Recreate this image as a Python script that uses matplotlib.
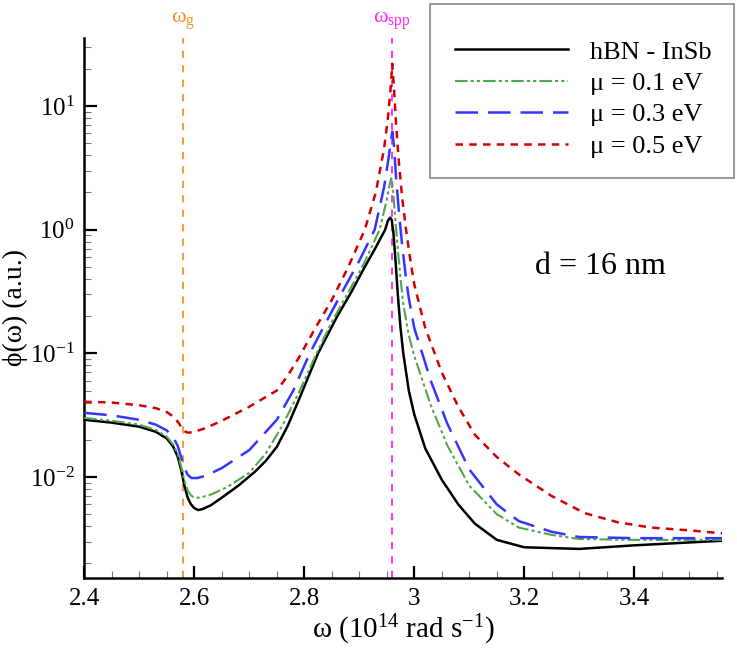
import numpy as np
import matplotlib
matplotlib.use("Agg")
import matplotlib.pyplot as plt
from matplotlib.patches import Rectangle
from matplotlib.ticker import LogLocator, MultipleLocator, FixedLocator, NullFormatter

plt.rcParams['font.family'] = ['Liberation Serif', 'DejaVu Serif']
plt.rcParams['mathtext.fontset'] = 'custom'
plt.rcParams['mathtext.rm'] = 'Liberation Serif'
plt.rcParams['mathtext.it'] = 'Liberation Serif:italic'

# hBN - InSb
x_hbn = [2.40, 2.45, 2.50, 2.53, 2.55, 2.562, 2.57, 2.576, 2.582, 2.588, 2.594, 2.60,
         2.607, 2.615, 2.63, 2.65, 2.68, 2.71, 2.73, 2.75, 2.77, 2.79, 2.825, 2.86,
         2.885, 2.91, 2.93, 2.947, 2.952, 2.956, 2.959, 2.962, 2.966, 2.97, 2.975, 2.98,
         2.99, 3.00, 3.02, 3.05, 3.08, 3.11, 3.15, 3.20, 3.30, 3.40, 3.56]
y_hbn = [0.029, 0.0275, 0.0255, 0.0232, 0.0205, 0.0175, 0.0145, 0.0115, 0.0085, 0.0068,
         0.0060, 0.0056, 0.0054, 0.0055, 0.0059, 0.0068, 0.0085, 0.0110, 0.0135, 0.0175,
         0.026, 0.042, 0.1, 0.2, 0.31, 0.5, 0.72, 1.0, 1.18, 1.25, 1.2, 0.95, 0.55, 0.3,
         0.16, 0.1, 0.05, 0.032, 0.017, 0.0095, 0.0060, 0.0042, 0.0031, 0.0027, 0.00262,
         0.0028, 0.00305]

# mu = 0.1 eV
x_mu1 = [2.40, 2.45, 2.50, 2.53, 2.55, 2.562, 2.57, 2.576, 2.582, 2.588, 2.594, 2.60,
         2.61, 2.63, 2.66, 2.70, 2.73, 2.76, 2.79, 2.82, 2.85, 2.88, 2.91, 2.937, 2.95,
         2.955, 2.958, 2.961, 2.965, 2.97, 2.975, 2.98, 2.99, 3.00, 3.03, 3.06, 3.10,
         3.15, 3.19, 3.25, 3.30, 3.40, 3.56]
y_mu1 = [0.030, 0.0285, 0.0265, 0.024, 0.0212, 0.0182, 0.0152, 0.0122, 0.0093, 0.0078,
         0.0071, 0.0068, 0.0068, 0.0072, 0.0083, 0.0108, 0.0155, 0.026, 0.048, 0.095,
         0.18, 0.31, 0.55, 1.0, 1.75, 2.3, 2.6, 2.2, 1.3, 0.7, 0.4, 0.25, 0.14, 0.095,
         0.038, 0.018, 0.0085, 0.0050, 0.0039, 0.0034, 0.00315, 0.0031, 0.0031]

# mu = 0.3 eV
x_mu3 = [2.40, 2.45, 2.50, 2.53, 2.55, 2.562, 2.57, 2.576, 2.582, 2.588, 2.595, 2.605,
         2.62, 2.65, 2.70, 2.75, 2.78, 2.81, 2.84, 2.87, 2.90, 2.928, 2.945, 2.952,
         2.957, 2.96, 2.963, 2.967, 2.972, 2.978, 2.985, 2.99, 3.00, 3.03, 3.06, 3.10,
         3.15, 3.19, 3.25, 3.30, 3.40, 3.56]
y_mu3 = [0.033, 0.0315, 0.029, 0.0265, 0.0238, 0.0208, 0.0178, 0.0145, 0.0118, 0.0104,
         0.0098, 0.0098, 0.0102, 0.0118, 0.0165, 0.029, 0.05, 0.1, 0.18, 0.32, 0.56,
         1.0, 2.2, 3.5, 5.0, 6.2, 4.8, 2.6, 1.4, 0.75, 0.4, 0.28, 0.16, 0.06, 0.027,
         0.0115, 0.006, 0.0044, 0.0036, 0.00327, 0.0032, 0.0032]

# mu = 0.5 eV
x_mu5 = [2.40, 2.45, 2.50, 2.53, 2.55, 2.563, 2.572, 2.578, 2.584, 2.59, 2.60, 2.62,
         2.65, 2.70, 2.75, 2.77, 2.79, 2.82, 2.85, 2.88, 2.91, 2.93, 2.945, 2.952,
         2.957, 2.96, 2.963, 2.967, 2.972, 2.978, 2.985, 2.992, 3.00, 3.02, 3.05, 3.08,
         3.11, 3.15, 3.19, 3.25, 3.31, 3.37, 3.43, 3.50, 3.56]
y_mu5 = [0.0406, 0.040, 0.038, 0.036, 0.0335, 0.0305, 0.0272, 0.0245, 0.0232, 0.0228,
         0.0232, 0.0248, 0.0285, 0.037, 0.050, 0.066, 0.092, 0.16, 0.27, 0.5, 1.0, 2.0,
         4.5, 8.0, 14.0, 22.0, 14.0, 7.0, 3.5, 1.8, 1.0, 0.6, 0.36, 0.16, 0.07, 0.037,
         0.022, 0.0145, 0.0105, 0.0070, 0.0051, 0.0043, 0.0039, 0.0037, 0.0035]

w_g = 2.58
w_spp = 2.96

W, H = 737, 649
fig = plt.figure(figsize=(W / 100, H / 100), dpi=100)
ax = fig.add_axes([84.3 / W, 1 - 578 / H, 637.7 / W, 540 / H])

ax.axvline(w_g, color='#f7931e', ls=(0, (4, 4)), lw=1.3, zorder=1)
ax.axvline(w_spp, color='#ff22ff', ls=(0, (4, 4)), lw=1.3, zorder=1)

ax.plot(x_hbn, y_hbn, color='black', lw=1.8, label='hBN - InSb', zorder=3)
ax.plot(x_mu1, y_mu1, color='#4fa84f', lw=1.5, ls=(0, (6, 1.5, 1.5, 1.5, 1.5, 1.5)),
        label='μ = 0.1 eV', zorder=3)
ax.plot(x_mu3, y_mu3, color='#3535ff', lw=1.8, ls=(0, (9, 4)), label='μ = 0.3 eV', zorder=3)
ax.plot(x_mu5, y_mu5, color='#d40000', lw=1.8, ls=(0, (3, 2.5)), label='μ = 0.5 eV', zorder=3)

ax.set_yscale('log')
ax.set_xlim(2.4, 3.5595)
ax.set_ylim(10 ** -2.817, 10 ** 1.55)

ax.xaxis.set_major_locator(FixedLocator([2.4, 2.6, 2.8, 3.0, 3.2, 3.4]))
ax.set_xticklabels(['2.4', '2.6', '2.8', '3', '3.2', '3.4'])
ax.xaxis.set_minor_locator(MultipleLocator(0.05))
ax.yaxis.set_major_locator(FixedLocator([1e-2, 1e-1, 1e0, 1e1]))
ax.set_yticklabels([r'$\mathregular{10^{-2}}$', r'$\mathregular{10^{-1}}$',
                    r'$\mathregular{10^{0}}$', r'$\mathregular{10^{1}}$'])
ax.yaxis.set_minor_locator(LogLocator(base=10, subs=np.arange(2, 10), numticks=20))
ax.yaxis.set_minor_formatter(NullFormatter())

for s in ['top', 'right']:
    ax.spines[s].set_visible(False)
for s in ['left', 'bottom']:
    ax.spines[s].set_linewidth(1.8)

ax.tick_params(which='major', direction='in', length=9, width=1.6, labelsize=18, pad=7)
ax.tick_params(which='minor', direction='in', length=5, width=0.8, color='#777777')
ax.tick_params(top=False, right=False)

ax.set_xlabel('ω (10$^{14}$ rad s$^{-1}$)', fontsize=21, labelpad=2)
ax.set_ylabel('ϕ(ω) (a.u.)', fontsize=20, labelpad=1)

ax.text(w_g, 1.032, 'ω$_{\\rm g}$', transform=ax.get_xaxis_transform(), color='#f7931e',
        fontsize=16, ha='center', va='center')
ax.text(w_spp, 1.032, 'ω$_{\\rm spp}$', transform=ax.get_xaxis_transform(), color='#ff22ff',
        fontsize=16, ha='center', va='center')

ax.text(0.81, 0.576, 'd = 16 nm', transform=ax.transAxes, fontsize=23, ha='center', va='center')

# legend box
box = Rectangle((430 / W, 1 - 178 / H), 304 / W, 174 / H, transform=fig.transFigure,
                facecolor='white', edgecolor='#888888', lw=1.2, zorder=4, clip_on=False)
ax.add_patch(box)
leg = ax.legend(loc='center left', bbox_to_anchor=(455 / W, 1 - 99 / H),
                bbox_transform=fig.transFigure, frameon=False, fontsize=19,
                handlelength=4.3, handletextpad=0.8, labelspacing=0.3, borderpad=0,
                borderaxespad=0)
leg.set_zorder(5)

fig.savefig('out.png', dpi=100)
